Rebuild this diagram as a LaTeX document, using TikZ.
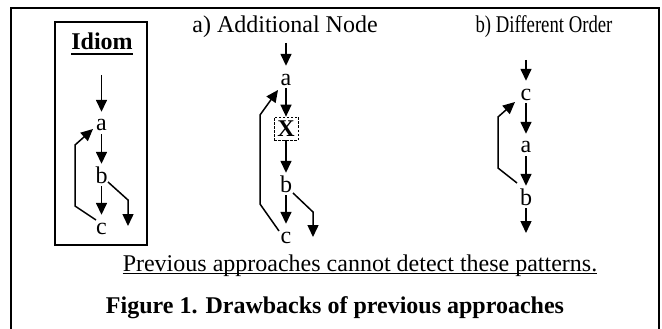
\documentclass[tikz,border=0pt]{standalone}
\usepackage{fontspec}
\setmainfont{Liberation Serif}
\usetikzlibrary{arrows.meta}
\begin{document}
\begin{tikzpicture}[x=1pt,y=-1pt,
  every node/.style={font=\fontsize{24}{28}\selectfont},
  lett/.style={inner xsep=1pt, inner ysep=3pt, text height=16pt, text depth=0pt, anchor=base},
  lbl/.style={inner sep=0pt, anchor=base},
  arr/.style={line width=1.5pt, -{Triangle[width=11pt,length=12pt]}},
  framestyle/.style={line width=1.6pt},
  boxline/.style={line width=1.3pt},
  xbox/.style={draw, dashed, line width=0.7pt, dash pattern=on 2.5pt off 1.5pt,
    minimum width=24pt, minimum height=23pt, inner sep=0pt},
  uline/.style={line width=1pt}
]
\useasboundingbox (0,0) rectangle (662,329);

% outer frame
\draw[framestyle] (11,340) -- (11,8) -- (659,8) -- (659,340);

% idiom panel
\draw[boxline] (55,22) rectangle (147,245);
\node[lbl] (idiom) at (102,50) {\bfseries Idiom};
\draw[line width=1.5pt] ([shift={(0,4)}]idiom.base west) -- ([shift={(0,4)}]idiom.base east);
\coordinate (itop) at (101.5,75);
\node[lett] (ia) at (101.5,131) {a};
\node[lett] (ib) at (101.5,183) {b};
\node[lett] (ic) at (101.5,234) {c};
\coordinate (iout) at (128,226);
\draw[arr] (itop) -- (ia);
\draw[arr] (ia) -- (ib);
\draw[arr] (ib) -- (ic);
\draw[arr] ([shift={(6.5,-1)}]ib.base) -- (128,200) -- (iout);
\draw[arr] ([shift={(-5.5,-14)}]ic.base) -- (75,206) -- (75,145) -- ([shift={(-8.5,-2)}]ia.base);

% a) additional node
\node[lbl] (ttla) at (285,33) {a) Additional Node};
\coordinate (mtop) at (286,43);
\node[lett] (ma) at (286,85) {a};
\node[xbox] (mx) at (286,128.5) {\bfseries X};
\node[lett] (mb) at (286,192) {b};
\node[lett] (mc) at (286,243) {c};
\coordinate (mout) at (313,237);
\draw[arr] (mtop) -- (ma);
\draw[arr] (ma) -- (mx);
\draw[arr] (mx) -- (mb);
\draw[arr] (mb) -- (mc);
\draw[arr] ([shift={(7,1)}]mb.base) -- (313,212) -- (mout);
\draw[arr] ([shift={(-7,-12)}]mc.base) -- (260,204) -- (260,115) -- ([shift={(-8,5)}]ma.base);

% b) different order
\node[lbl] (ttlb) at (544,33) {\scalebox{0.78}[1]{b) Different Order}};
\coordinate (btop) at (526,60);
\node[lett] (bc) at (526,100) {c};
\node[lett] (ba) at (526,153) {a};
\node[lett] (bb) at (526,205) {b};
\coordinate (bout) at (526,233);
\draw[arr] (btop) -- (bc);
\draw[arr] (bc) -- (ba);
\draw[arr] (ba) -- (bb);
\draw[arr] (bb) -- (bout);
\draw[arr] ([shift={(-9,-22)}]bb.base) -- (498,168) -- (498,117) -- ([shift={(-11,2)}]bc.base);

% remark and caption
\node[lbl] (note) at (360,271) {Previous approaches cannot detect these patterns.};
\draw[uline] ([shift={(0,2.5)}]note.base west) -- ([shift={(0,2.5)}]note.base east);
\node[lbl] (caption) at (335,313) {\bfseries Figure 1. Drawbacks of previous approaches};
\end{tikzpicture}
\end{document}
